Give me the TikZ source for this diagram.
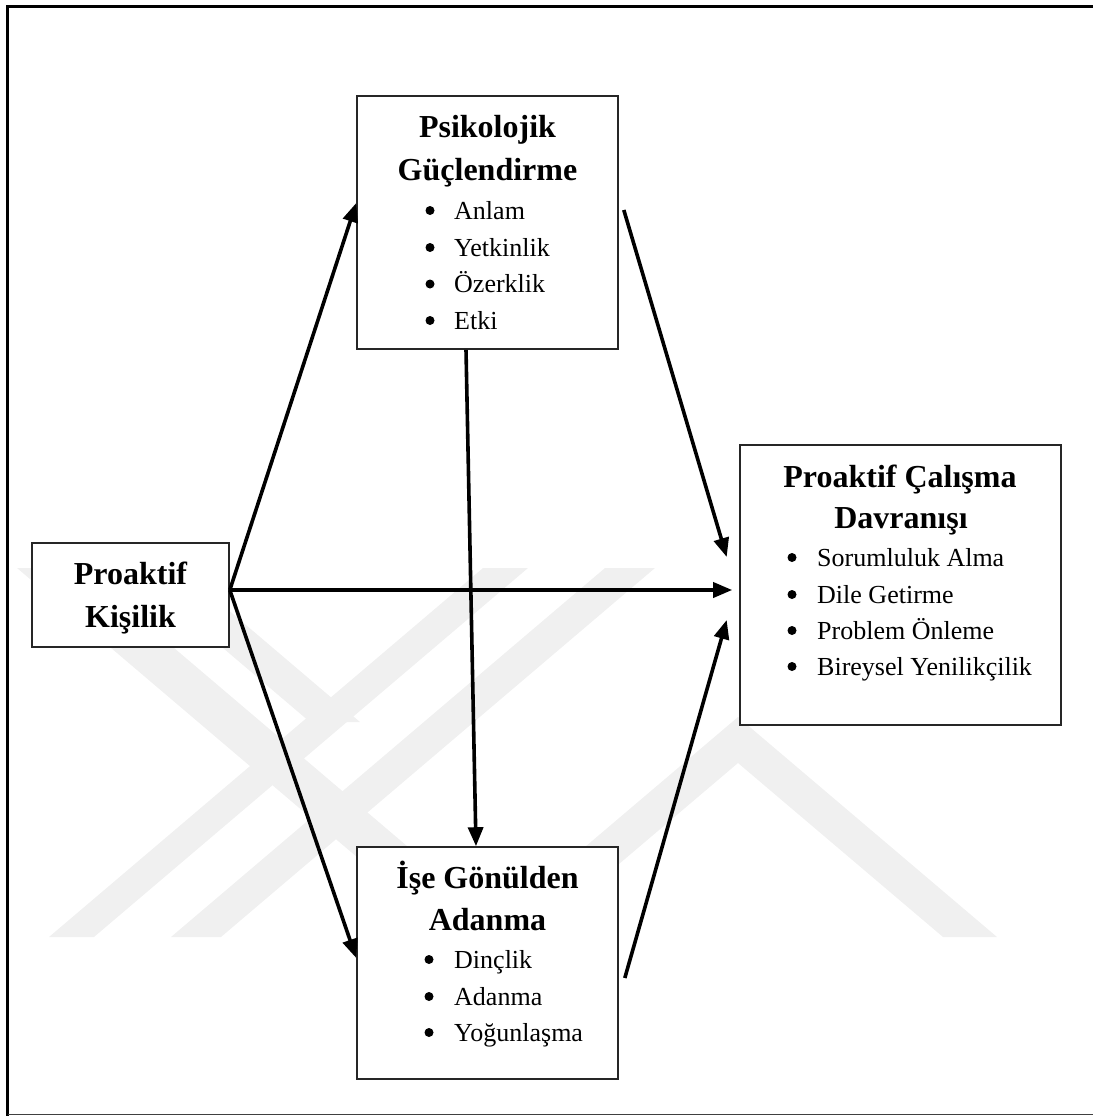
\documentclass[tikz,border=0pt]{standalone}
\usepackage{fontspec}
\setmainfont{Liberation Serif}
\usetikzlibrary{arrows.meta}
\begin{document}
\begin{tikzpicture}[x=1pt,y=-1pt,
  box/.style={draw=black!85, line width=1.6pt, fill=white, inner sep=0pt, rectangle},
  ttl/.style={font=\fontsize{32}{38}\selectfont\bfseries, anchor=base, inner sep=0pt},
  itm/.style={font=\fontsize{26}{30}\selectfont, anchor=base west, inner sep=0pt},
  bul/.style={circle, fill=black, draw=none, inner sep=0pt, minimum size=9pt},
  arr/.style={line width=3.6pt, -{Triangle[length=19pt,width=15pt]}},
  wm/.style={fill=black!6, draw=none}]
\useasboundingbox (0,0) rectangle (1093,1116);
% watermark
\begin{scope}
\clip (9,9) rectangle (1093,1113);
\fill[wm] (17,568) -- (80,568) -- (514,937) -- (451,937) -- cycle;
\fill[wm] (483,568) -- (528,568) -- (94,937) -- (49,937) -- cycle;
\fill[wm] (605,568) -- (655,568) -- (221,937) -- (171,937) -- cycle;
\fill[wm] (129,568) -- (179,568) -- (360,722) -- (310,722) -- cycle;
\fill[wm] (479,937) -- (738,717) -- (997,937) -- (943,937) -- (738,763) -- (533,937) -- cycle;
\end{scope}
% frame
\draw[line width=3pt] (7.5,1116) -- (7.5,7) -- (1093,7);
\draw[line width=1.5pt, black!75] (7.5,1114.5) -- (1093,1114.5);
% boxes
\node[box, minimum width=261pt, minimum height=253pt] (pg) at (487.5,222.5) {};
\node[box, minimum width=197pt, minimum height=104pt] (pk) at (130.5,595) {};
\node[box, minimum width=321pt, minimum height=280pt] (pcd) at (900.5,585) {};
\node[box, minimum width=261pt, minimum height=232pt] (ig) at (487.5,963) {};
% Psikolojik Güçlendirme
\node[ttl] (pgt1) at (487.5,137) {Psikolojik};
\node[ttl] (pgt2) at (487.5,180) {Güçlendirme};
\foreach \t/\y [count=\i] in {Anlam/219, Yetkinlik/256, Özerklik/292.5, Etki/329}{
  \node[bul] (pgb\i) at (430,\y-8.5) {};
  \node[itm] (pgi\i) at (454,\y) {\t};
}
% Proaktif Kişilik
\node[ttl] (pkt1) at (130.5,584) {Proaktif};
\node[ttl] (pkt2) at (130.5,627) {Kişilik};
% Proaktif Çalışma Davranışı
\node[ttl] (pct1) at (900,487) {Proaktif Çalışma};
\node[ttl] (pct2) at (901,528) {Davranışı};
\foreach \t/\y [count=\i] in {Sorumluluk Alma/566, Dile Getirme/603, Problem Önleme/639, Bireysel Yenilikçilik/675}{
  \node[bul] (pcb\i) at (792,\y-8.5) {};
  \node[itm] (pci\i) at (817,\y) {\t};
}
% İşe Gönülden Adanma
\node[ttl] (igt1) at (487.5,888) {İşe Gönülden};
\node[ttl] (igt2) at (487.5,930) {Adanma};
\foreach \t/\y [count=\i] in {Dinçlik/968, Adanma/1005, Yoğunlaşma/1041}{
  \node[bul] (igb\i) at (429,\y-8.5) {};
  \node[itm] (igi\i) at (454,\y) {\t};
}
% arrows
\coordinate (pko) at ([yshift=5pt]pk.east);
\draw[arr] (pko) -- ([yshift=19.5pt]pg.west);
\draw[arr] (pko) -- ([xshift=-7pt,yshift=-5pt]pcd.west);
\draw[arr] (pko) -- ([yshift=5pt]ig.west);
\draw[arr] ([xshift=-21.5pt]pg.south) -- ([xshift=-11.5pt]ig.north);
\draw[arr] ([xshift=5pt,yshift=12.5pt]pg.east) -- ([xshift=-12.5pt,yshift=28pt]pcd.west);
\draw[arr] ([xshift=6pt,yshift=-15pt]ig.east) -- ([xshift=-12.5pt,yshift=-35pt]pcd.west);
\end{tikzpicture}
\end{document}
